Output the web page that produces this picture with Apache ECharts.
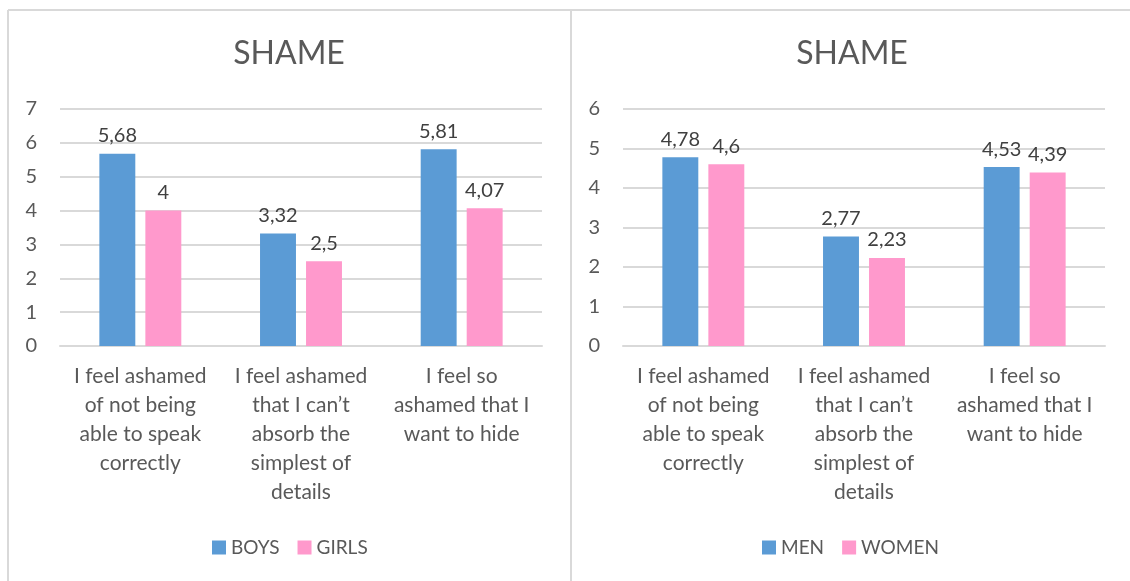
<!DOCTYPE html>
<html>
<head>
<meta charset="utf-8">
<script src="https://cdn.jsdelivr.net/npm/echarts@6/dist/echarts.min.js"></script>
<style>
  html, body { margin: 0; padding: 0; background: #fff; }
  #main { width: 1130px; height: 581px; }
</style>
</head>
<body>
<div id="main"></div>
<script>
// categories (same for both panels)
var categories = [
    'I feel ashamed\nof not being\nable to speak\ncorrectly',
    'I feel ashamed\nthat I can\u2019t\nabsorb the\nsimplest of\ndetails',
    'I feel so\nashamed that I\nwant to hide'
];
// left panel
var boys = [5.68, 3.32, 5.81];
var girls = [4, 2.5, 4.07];
// right panel
var men = [4.78, 2.77, 4.53];
var women = [4.6, 2.23, 4.39];

var yTicksLeft = [0, 7];
var yTicksRight = [0, 6];

var BLUE = '#5B9BD5', PINK = '#FF99CC';
var TXT = '#595959', GRID = '#D9D9D9';
var FONT = 'Lato, "Open Sans", sans-serif';

var myChart = echarts.init(document.getElementById('main'));

function comma(p) { return String(p.value).replace('.', ','); }

function xAxis(idx) {
    return {
        type: 'category', gridIndex: idx, data: categories,
        axisLine: { lineStyle: { color: GRID, width: 2 } },
        axisTick: { show: false },
        axisLabel: { color: TXT, fontSize: 21, fontFamily: FONT, lineHeight: 29, margin: 16, interval: 0 }
    };
}
function yAxis(idx, ticks) {
    return {
        type: 'value', gridIndex: idx, min: ticks[0], max: ticks[1], interval: 1,
        axisLine: { show: false }, axisTick: { show: false },
        axisLabel: { color: TXT, fontSize: 20, fontFamily: FONT, margin: 23 },
        splitLine: { lineStyle: { color: GRID, width: 2 } }
    };
}
function bar(name, data, color, idx) {
    return {
        name: name, type: 'bar', data: data, xAxisIndex: idx, yAxisIndex: idx,
        barGap: '28%', barCategoryGap: '49%',
        itemStyle: { color: color },
        label: { show: true, position: 'top', distance: 8, color: '#404040', fontSize: 20, fontFamily: FONT, formatter: comma }
    };
}

var option = {
    animation: false,
    title: [
        { text: 'SHAME', left: 289, top: 38, textAlign: 'center', padding: 0,
          textStyle: { color: TXT, fontSize: 32, fontWeight: 'normal', fontFamily: FONT } },
        { text: 'SHAME', left: 852, top: 38, textAlign: 'center', padding: 0,
          textStyle: { color: TXT, fontSize: 32, fontWeight: 'normal', fontFamily: FONT } }
    ],
    legend: [
        { data: ['BOYS', 'GIRLS'], left: 212, top: 538, padding: 0, itemWidth: 14, itemHeight: 14, itemGap: 18,
          icon: 'rect', textStyle: { color: TXT, fontSize: 19, fontFamily: FONT } },
        { data: ['MEN', 'WOMEN'], left: 762, top: 538, padding: 0, itemWidth: 14, itemHeight: 14, itemGap: 18,
          icon: 'rect', textStyle: { color: TXT, fontSize: 19, fontFamily: FONT } }
    ],
    grid: [
        { left: 60, right: 588, top: 109, bottom: 235 },
        { left: 623, right: 25, top: 109, bottom: 235 }
    ],
    xAxis: [xAxis(0), xAxis(1)],
    yAxis: [yAxis(0, yTicksLeft), yAxis(1, yTicksRight)],
    series: [
        bar('BOYS', boys, BLUE, 0),
        bar('GIRLS', girls, PINK, 0),
        bar('MEN', men, BLUE, 1),
        bar('WOMEN', women, PINK, 1)
    ],
    graphic: [
        { type: 'line', shape: { x1: 8, y1: 10, x2: 1130, y2: 10 }, style: { stroke: GRID, lineWidth: 2 } },
        { type: 'line', shape: { x1: 8, y1: 10, x2: 8, y2: 581 }, style: { stroke: GRID, lineWidth: 2 } },
        { type: 'line', shape: { x1: 571, y1: 10, x2: 571, y2: 581 }, style: { stroke: GRID, lineWidth: 2 } }
    ]
};

myChart.setOption(option);
</script>
</body>
</html>
